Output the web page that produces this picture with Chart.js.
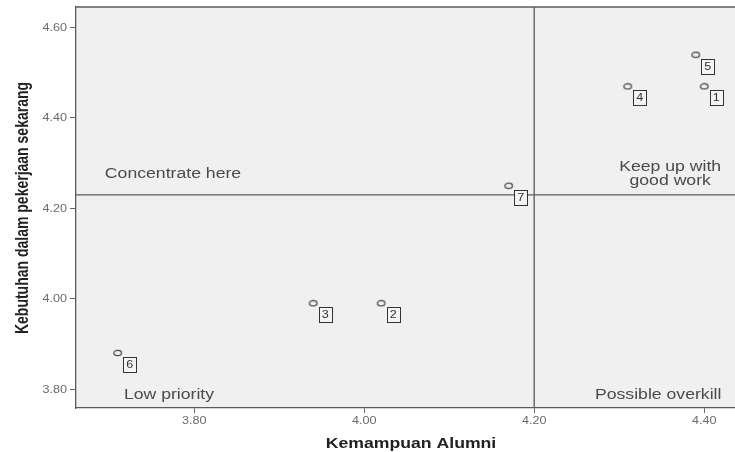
<!DOCTYPE html>
<html>
<head>
<meta charset="utf-8">
<script src="https://cdn.jsdelivr.net/npm/chart.js@4/dist/chart.umd.min.js"></script>
<style>
html,body{margin:0;padding:0;background:#fff;}
#wrap{width:735px;height:452px;overflow:hidden;position:relative;}
canvas{display:block;}
</style>
</head>
<body>
<div id="wrap"><canvas id="c" width="750" height="452"></canvas></div>
<script>
// ---- data ----
const pointLabels = ['1','2','3','4','5','6','7'];
const kemampuan   = [4.40, 4.02, 3.94, 4.31, 4.39, 3.71, 4.17];   // x
const kebutuhan   = [4.47, 3.99, 3.99, 4.47, 4.54, 3.88, 4.25];   // y
const xTickValues = [3.80, 4.00, 4.20, 4.40];
const yTickValues = [3.80, 4.00, 4.20, 4.40, 4.60];
const xRefLine = 4.20;
const yRefLine = 4.23;
const quadrantTexts = {
  topLeft: ['Concentrate here'],
  topRight: ['Keep up with', 'good work'],
  bottomLeft: ['Low priority'],
  bottomRight: ['Possible overkill']
};
const xTitle = 'Kemampuan Alumni';
const yTitle = 'Kebutuhan dalam pekerjaan sekarang';

const SX = 1.26; // horizontal text stretch seen in the reference
const FONT = '"Liberation Sans", Arial, sans-serif';

function sText(ctx, txt, x, y, align, font, color, rot) {
  ctx.save();
  ctx.translate(x, y);
  if (rot) ctx.rotate(rot);
  if (rot) ctx.scale(1, SX); else ctx.scale(SX, 1);
  ctx.font = font;
  ctx.fillStyle = color;
  ctx.textAlign = align;
  ctx.textBaseline = 'alphabetic';
  ctx.fillText(txt, 0, 0);
  ctx.restore();
}

// ellipse marker
const marker = document.createElement('canvas');
marker.width = 11; marker.height = 8;
(function(){
  const m = marker.getContext('2d');
  m.strokeStyle = '#444';
  m.lineWidth = 1.2;
  m.beginPath();
  m.ellipse(5.5, 4, 3.8, 2.6, 0, 0, Math.PI * 2);
  m.stroke();
})();

const points = kemampuan.map((x, i) => ({x: x, y: kebutuhan[i]}));

const deco = {
  id: 'deco',
  beforeDraw(chart) {
    const {ctx, chartArea: a} = chart;
    ctx.save();
    ctx.fillStyle = '#f0f0f0';
    ctx.fillRect(a.left, a.top, a.right - a.left, a.bottom - a.top);
    ctx.restore();
  },
  beforeDatasetsDraw(chart) {
    const {ctx, chartArea: a, scales} = chart;
    const xs = scales.x, ys = scales.y;
    const vx = xs.getPixelForValue(xRefLine);
    const hy = ys.getPixelForValue(yRefLine);
    ctx.save();
    ctx.strokeStyle = '#5a5a5a';
    ctx.lineWidth = 1.3;
    ctx.beginPath();
    ctx.moveTo(a.left, hy); ctx.lineTo(a.right, hy);
    ctx.moveTo(vx, a.top); ctx.lineTo(vx, a.bottom);
    ctx.stroke();
    ctx.restore();

    const qf = '14px ' + FONT, qc = '#4a4a4a';
    sText(ctx, quadrantTexts.topLeft[0], a.left + 97, hy - 17, 'center', qf, qc);
    sText(ctx, quadrantTexts.topRight[0], vx + 136, hy - 24, 'center', qf, qc);
    sText(ctx, quadrantTexts.topRight[1], vx + 136, hy - 10, 'center', qf, qc);
    sText(ctx, quadrantTexts.bottomLeft[0], a.left + 93, a.bottom - 9, 'center', qf, qc);
    sText(ctx, quadrantTexts.bottomRight[0], vx + 124, a.bottom - 9, 'center', qf, qc);
  },
  afterDatasetsDraw(chart) {
    const {ctx} = chart;
    const meta = chart.getDatasetMeta(0);
    ctx.save();
    meta.data.forEach((el, i) => {
      const cx = el.x + 12, cy = el.y + 11.5;
      ctx.fillStyle = '#f4f4f4';
      ctx.strokeStyle = '#333';
      ctx.lineWidth = 1;
      ctx.fillRect(cx - 6.5, cy - 7.5, 13, 15);
      ctx.strokeRect(Math.round(cx - 6.5) + 0.5, Math.round(cy - 7.5) + 0.5, 13, 15);
      sText(ctx, pointLabels[i], cx, cy + 3.5, 'center', '10px ' + FONT, '#333');
    });
    ctx.restore();
  },
  afterDraw(chart) {
    const {ctx, chartArea: a, scales} = chart;
    ctx.save();
    ctx.strokeStyle = '#5a5a5a';
    ctx.lineWidth = 1.3;
    ctx.beginPath();
    ctx.moveTo(a.left, a.top); ctx.lineTo(a.right, a.top);
    ctx.stroke();
    ctx.restore();
    const tf = '10px ' + FONT, tc = '#6a6a6a';
    xTickValues.forEach(v => {
      sText(ctx, v.toFixed(2), scales.x.getPixelForValue(v), a.bottom + 16, 'center', tf, tc);
    });
    yTickValues.forEach(v => {
      sText(ctx, v.toFixed(2), a.left - 9, scales.y.getPixelForValue(v) + 3.5, 'right', tf, tc);
    });
    sText(ctx, xTitle, 411, 448, 'center', 'bold 14px ' + FONT, '#222');
    sText(ctx, yTitle, 28, 208, 'center', 'bold 14px ' + FONT, '#222', -Math.PI / 2);
  }
};

new Chart(document.getElementById('c'), {
  type: 'scatter',
  data: {
    datasets: [{
      data: points,
      pointStyle: marker,
      pointRadius: 4,
      pointHoverRadius: 4
    }]
  },
  options: {
    responsive: false,
    animation: false,
    devicePixelRatio: 1,
    layout: {padding: {top: 7, left: 0, right: 0, bottom: 0}},
    plugins: {legend: {display: false}, tooltip: {enabled: false}},
    scales: {
      x: {
        type: 'linear',
        min: 3.661, max: 4.448,
        afterBuildTicks: s => { s.ticks = xTickValues.map(v => ({value: v})); },
        afterFit: s => { s.height = 44; },
        ticks: {display: false},
        grid: {drawOnChartArea: false, drawTicks: true, tickLength: 5, color: '#666'},
        border: {display: true, color: '#5a5a5a', width: 1.3}
      },
      y: {
        type: 'linear',
        min: 3.758, max: 4.6457,
        afterBuildTicks: s => { s.ticks = yTickValues.map(v => ({value: v})); },
        afterFit: s => { s.width = 76; },
        ticks: {display: false},
        grid: {drawOnChartArea: false, drawTicks: true, tickLength: 6, color: '#666'},
        border: {display: true, color: '#5a5a5a', width: 1.3}
      }
    }
  },
  plugins: [deco]
});
</script>
</body>
</html>
